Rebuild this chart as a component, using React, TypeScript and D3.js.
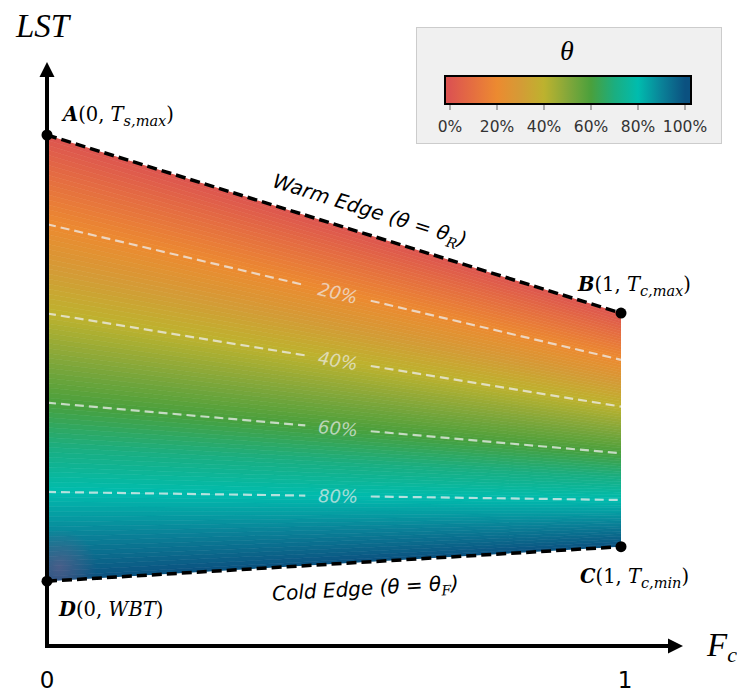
import React from 'react';
import * as d3 from 'd3';

// corner points of the trapezoid (F_c, LST in arbitrary units)
const cornerNames = ['A', 'B', 'C', 'D'];
const cornerFc = [0, 1, 1, 0];
const cornerLst = [87.5, 57.0, 17.0, 11.1];

const contourLevels = [0.2, 0.4, 0.6, 0.8];
const contourLabels = ['20%', '40%', '60%', '80%'];

const legendTicks = [0, 0.2, 0.4, 0.6, 0.8, 1];
const legendTickLabels = ['0%', '20%', '40%', '60%', '80%', '100%'];

const colorStops = [
  '#dc5450', '#e56f40', '#ec8a30', '#d49b36', '#bdb22e', '#84a73a',
  '#4aa03c', '#1bae80', '#00bcae', '#0a8298', '#0b5180',
];

const xTickValues = [0, 1];
const xTickLabels = ['0', '1'];

const W = 737;
const H = 696;
const SANS = 'DejaVu Sans, Verdana, sans-serif';
const SERIF = 'DejaVu Serif, serif';

const App: React.FC = () => {
  const x = d3.scaleLinear().domain([0, 1]).range([47, 621]);
  const y = d3.scaleLinear().domain([0, 100]).range([646, 62]);
  const color = d3
    .scaleLinear<string>()
    .domain(colorStops.map((_, i) => i / (colorStops.length - 1)))
    .range(colorStops)
    .interpolate(d3.interpolateRgb);

  const [A, B, C, D] = cornerLst;
  const warm = (f: number) => A + (B - A) * f;
  const cold = (f: number) => D + (C - D) * f;
  const iso = (t: number, f: number) => warm(f) + t * (cold(f) - warm(f));

  const line = d3
    .line<[number, number]>()
    .x((d) => x(d[0]))
    .y((d) => y(d[1]));

  // filled bands from warm edge (0) to cold edge (1)
  const nBands = 90;
  const bands = d3.range(nBands).map((i) => {
    const t0 = i / nBands;
    const t1 = (i + 1) / nBands;
    const pts: [number, number][] = [
      [0, iso(t0, 0)],
      [1, iso(t0, 1)],
      [1, iso(t1, 1)],
      [0, iso(t1, 0)],
    ];
    return { d: line(pts) + 'Z', c: color((t0 + t1) / 2) };
  });

  const trapezoid = line([
    [0, A],
    [1, B],
    [1, C],
    [0, D],
  ]) + 'Z';

  const labelF = 0.507;
  const gapF = 0.057;

  const angleOf = (y0: number, y1: number) =>
    (Math.atan2(y(y1) - y(y0), x(1) - x(0)) * 180) / Math.PI;

  const warmAngle = angleOf(A, B);
  const coldAngle = angleOf(D, C);

  // edge label anchors, offset perpendicular to edge
  const edgeLabelPos = (lst: (f: number) => number, f: number, ang: number, off: number) => {
    const px = x(f);
    const py = y(lst(f));
    const r = (ang * Math.PI) / 180;
    return [px + Math.sin(r) * off, py - Math.cos(r) * off];
  };
  const warmPos = edgeLabelPos(warm, 0.55, warmAngle, 24);
  const coldPos = edgeLabelPos(cold, 0.552, coldAngle, -26);

  // legend
  const lg = d3.scaleLinear().domain([0, 1]).range([450, 685]);

  const axisX1 = x(1.108);
  const axisY1 = y(100);

  const pt = (i: number) => [x(cornerFc[i]), y(cornerLst[i])];

  return (
    <svg width={W} height={H} style={{ position: 'absolute', left: 0, top: 0 }}>
      <defs>
        <clipPath id="trap">
          <path d={trapezoid} />
        </clipPath>
        <radialGradient id="smudge" cx={x(0) + 12} cy={y(D) - 14} r={38} gradientUnits="userSpaceOnUse">
          <stop offset="0" stopColor="#7a5c8a" stopOpacity={0.55} />
          <stop offset="1" stopColor="#7a5c8a" stopOpacity={0} />
        </radialGradient>
        <linearGradient id="legendGrad" gradientUnits="userSpaceOnUse" x1={lg(0)} x2={lg(1)} y1={0} y2={0}>
          {d3.range(0, 1.0001, 0.05).map((t) => (
            <stop key={t} offset={t} stopColor={color(t)} />
          ))}
        </linearGradient>
      </defs>

      <rect width={W} height={H} fill="#fff" />

      {/* fill */}
      <g clipPath="url(#trap)">
        {bands.map((b, i) => (
          <path key={i} d={b.d} fill={b.c} stroke={b.c} strokeWidth={0.6} />
        ))}
        <rect x={x(0)} y={y(D) - 60} width={70} height={70} fill="url(#smudge)" />
      </g>

      {/* contour lines */}
      {contourLevels.map((t, i) => {
        const ang = angleOf(iso(t, 0), iso(t, 1));
        return (
          <g key={t}>
            <path
              d={line([
                [0, iso(t, 0)],
                [labelF - gapF, iso(t, labelF - gapF)],
              ]) || ''}
              stroke="#eeeeee"
              strokeOpacity={0.75}
              strokeWidth={2.2}
              strokeDasharray="9,5"
              fill="none"
            />
            <path
              d={line([
                [labelF + gapF, iso(t, labelF + gapF)],
                [1, iso(t, 1)],
              ]) || ''}
              stroke="#eeeeee"
              strokeOpacity={0.75}
              strokeWidth={2.2}
              strokeDasharray="9,5"
              fill="none"
            />
            <text
              transform={`translate(${x(labelF)},${y(iso(t, labelF))}) rotate(${ang})`}
              dy="0.36em"
              textAnchor="middle"
              fontFamily={SANS}
              fontStyle="italic"
              fontSize={18}
              fill="#eeeeee"
              fillOpacity={0.7}
            >
              {contourLabels[i]}
            </text>
          </g>
        );
      })}

      {/* warm and cold edges */}
      <path d={line([[0, A], [1, B]]) || ''} stroke="#000" strokeWidth={3.5} strokeDasharray="10,5" fill="none" />
      <path d={line([[0, D], [1, C]]) || ''} stroke="#000" strokeWidth={3.5} strokeDasharray="10,5" fill="none" />

      {/* axes */}
      <line x1={x(0)} y1={y(0)} x2={x(0)} y2={axisY1 + 12} stroke="#000" strokeWidth={4} />
      <line x1={x(0) - 2} y1={y(0)} x2={axisX1 - 12} y2={y(0)} stroke="#000" strokeWidth={4} />
      <path d={`M${x(0)},${axisY1} L${x(0) - 7.5},${axisY1 + 15} L${x(0) + 7.5},${axisY1 + 15}Z`} fill="#000" />
      <path d={`M${axisX1},${y(0)} L${axisX1 - 15},${y(0) - 7.5} L${axisX1 - 15},${y(0) + 7.5}Z`} fill="#000" />

      {xTickValues.map((v, i) => (
        <text key={v} x={x(v) + (i === 1 ? 4 : 0)} y={688} textAnchor="middle" fontFamily={SANS} fontSize={23} fill="#000">
          {xTickLabels[i]}
        </text>
      ))}

      <text x={16} y={37} fontFamily="Liberation Serif, serif" fontStyle="italic" fontSize={33}>
        LST
      </text>
      <text x={707} y={656} fontFamily="Liberation Serif, serif" fontStyle="italic" fontSize={33}>
        F<tspan fontSize={22} dy={6}>c</tspan>
      </text>

      {/* corner points */}
      {cornerNames.map((n, i) => {
        const [px, py] = pt(i);
        return <circle key={n} cx={px} cy={py} r={5.5} fill="#000" />;
      })}

      {/* corner labels */}
      <text x={pt(0)[0] + 16} y={pt(0)[1] - 14} fontFamily={SERIF} fontSize={19.5}>
        <tspan fontWeight="bold" fontStyle="italic">A</tspan>
        <tspan>(0, </tspan>
        <tspan fontStyle="italic">T</tspan>
        <tspan fontStyle="italic" fontSize={14.5} dy={5}>s,max</tspan>
        <tspan dy={-5}>)</tspan>
      </text>
      <text x={pt(1)[0] - 43} y={pt(1)[1] - 22} fontFamily={SERIF} fontSize={19.5}>
        <tspan fontWeight="bold" fontStyle="italic">B</tspan>
        <tspan>(1, </tspan>
        <tspan fontStyle="italic">T</tspan>
        <tspan fontStyle="italic" fontSize={14.5} dy={5}>c,max</tspan>
        <tspan dy={-5}>)</tspan>
      </text>
      <text x={pt(2)[0] - 41} y={pt(2)[1] + 36} fontFamily={SERIF} fontSize={19.5}>
        <tspan fontWeight="bold" fontStyle="italic">C</tspan>
        <tspan>(1, </tspan>
        <tspan fontStyle="italic">T</tspan>
        <tspan fontStyle="italic" fontSize={14.5} dy={5}>c,min</tspan>
        <tspan dy={-5}>)</tspan>
      </text>
      <text x={pt(3)[0] + 12} y={pt(3)[1] + 35} fontFamily={SERIF} fontSize={19.5}>
        <tspan fontWeight="bold" fontStyle="italic">D</tspan>
        <tspan>(0, </tspan>
        <tspan fontStyle="italic">WBT</tspan>
        <tspan>)</tspan>
      </text>

      {/* edge labels */}
      <text
        transform={`translate(${warmPos[0]},${warmPos[1]}) rotate(${warmAngle})`}
        dy="0.35em"
        textAnchor="middle"
        fontFamily={SANS}
        fontStyle="italic"
        fontSize={20}
      >
        Warm Edge (θ = θ<tspan fontFamily={SERIF} fontSize={14} dy={5}>R</tspan>
        <tspan dy={-5}>)</tspan>
      </text>
      <text
        transform={`translate(${coldPos[0]},${coldPos[1]}) rotate(${coldAngle})`}
        dy="0.35em"
        textAnchor="middle"
        fontFamily={SANS}
        fontStyle="italic"
        fontSize={20}
      >
        Cold Edge (θ = θ<tspan fontFamily={SERIF} fontSize={14} dy={5}>F</tspan>
        <tspan dy={-5}>)</tspan>
      </text>

      {/* legend */}
      <rect x={416.5} y={27.5} width={305} height={116} fill="#f0f0f0" stroke="#cccccc" strokeWidth={1} />
      <text x={567} y={60} textAnchor="middle" fontFamily="Liberation Serif, serif" fontStyle="italic" fontSize={28}>
        θ
      </text>
      <rect x={445} y={76} width={246} height={28} fill="url(#legendGrad)" stroke="#000" strokeWidth={2} />
      {legendTicks.map((t, i) => (
        <g key={t}>
          <line x1={lg(t)} x2={lg(t)} y1={105} y2={110} stroke="#666" strokeWidth={1} />
          <text x={lg(t)} y={132} textAnchor="middle" fontFamily={SANS} fontSize={15.5} fill="#333">
            {legendTickLabels[i]}
          </text>
        </g>
      ))}
    </svg>
  );
};

export default App;
